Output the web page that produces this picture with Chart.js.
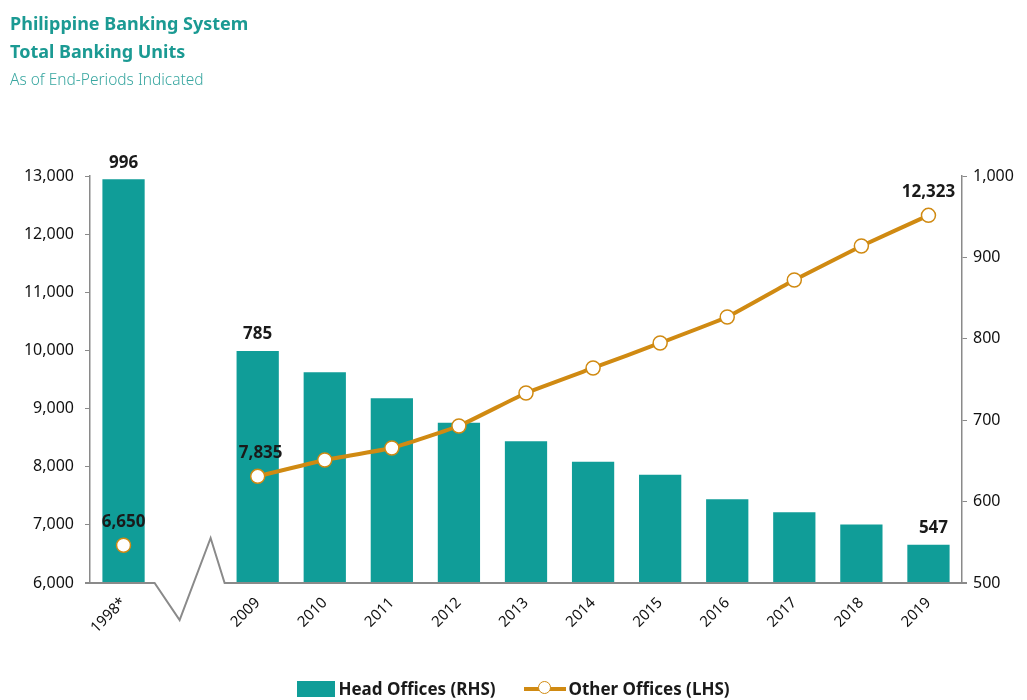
<!DOCTYPE html>
<html>
<head>
<meta charset="utf-8">
<script src="https://cdn.jsdelivr.net/npm/chart.js@4.4.1/dist/chart.umd.min.js"></script>
<style>
  html, body { margin: 0; padding: 0; background: #fff; }
  body { width: 1027px; height: 700px; position: relative; overflow: hidden; font-family: "Noto Sans", sans-serif; }
  #titles { position: absolute; left: 10px; top: 9px; color: #1b9a93; z-index: 2; }
  #titles .t { font-weight: bold; font-size: 18px; line-height: 28px; }
  #titles .s { font-size: 15.5px; line-height: 28px; color: #3aa7a1; font-weight: 300; }
  #wrap { position: absolute; left: 0; top: 0; width: 1027px; height: 700px; }
  #legend { position: absolute; left: 0; right: 0; top: 677px; display: flex; justify-content: center; align-items: center; font-size: 17px; font-weight: bold; color: #1a1a1a; z-index: 2; }
  #legend .item { display: flex; align-items: center; margin: 0 12px; }
  #legend .item:first-child { margin-right: 14px; }
  #legend .item:last-child { margin-left: 14px; }
  #legend .box { width: 38px; height: 16px; background: #109d98; margin-right: 3px; }
  #legend .ln { position: relative; width: 42px; height: 4px; background: #d08a12; margin-right: 3px; }
  #legend .ln i { position: absolute; left: 14px; top: -6px; width: 13px; height: 13px; border-radius: 50%; background: #fff; border: 1.5px solid #d08a12; box-sizing: border-box; }
</style>
</head>
<body>
<div id="titles">
  <div class="t">Philippine Banking System</div>
  <div class="t">Total Banking Units</div>
  <div class="s">As of End-Periods Indicated</div>
</div>
<div id="wrap"><canvas id="unitsChart" width="1027" height="700"></canvas></div>
<div id="legend">
  <div class="item"><span class="box"></span>Head Offices (RHS)</div>
  <div class="item"><span class="ln"><i></i></span>Other Offices (LHS)</div>
</div>
<script>
// the blank slot after 1998* is where the axis break goes
const years = ['1998*', '', '2009', '2010', '2011', '2012', '2013', '2014', '2015', '2016', '2017', '2018', '2019'];
const headOffices = [996, null, 785, 759, 727, 697, 674, 649, 633, 603, 587, 572, 547];
const otherOffices = [6650, null, 7835, 8116, 8322, 8700, 9268, 9698, 10128, 10575, 11211, 11796, 12323];
const leftTicks = [6000, 7000, 8000, 9000, 10000, 11000, 12000, 13000];
const rightTicks = [500, 600, 700, 800, 900, 1000];
const labelledIdx = [0, 2, 12];

const teal = '#109d98';
const gold = '#d08a12';
const axisGrey = '#8a8a8a';
const fontFamily = '"Noto Sans", sans-serif';

const fmt = v => v.toLocaleString('en-US');

// value labels above selected bars and points
const valueLabels = {
  id: 'valueLabels',
  afterDatasetsDraw(chart) {
    const ctx = chart.ctx;
    ctx.save();
    ctx.font = 'bold 17px ' + fontFamily;
    ctx.fillStyle = '#1a1a1a';
    ctx.textAlign = 'center';
    ctx.textBaseline = 'bottom';
    const bars = chart.getDatasetMeta(0).data;
    const pts = chart.getDatasetMeta(1).data;
    labelledIdx.forEach(i => {
      ctx.fillText(fmt(headOffices[i]), bars[i].x + (i === 12 ? 5 : 0), bars[i].y - 8);
      ctx.fillText(fmt(otherOffices[i]), pts[i].x + (i === 2 ? 3 : 0), pts[i].y - 15);
    });
    ctx.restore();
  }
};

// x axis line with a zigzag break over the empty slot
const brokenAxis = {
  id: 'brokenAxis',
  afterDraw(chart) {
    const ctx = chart.ctx;
    const area = chart.chartArea;
    const x = chart.scales.x.getPixelForValue(1);
    const y = area.bottom;
    ctx.save();
    ctx.strokeStyle = axisGrey;
    ctx.lineWidth = 2;
    ctx.beginPath();
    ctx.moveTo(area.left - 5, y);
    ctx.lineTo(x - 36, y);
    ctx.lineTo(x - 11, y + 37);
    ctx.lineTo(x + 20, y - 45);
    ctx.lineTo(x + 34, y);
    ctx.lineTo(area.right + 5, y);
    ctx.stroke();
    ctx.restore();
  }
};

const ctx = document.getElementById('unitsChart').getContext('2d');
const unitsChart = new Chart(ctx, {
  data: {
    labels: years,
    datasets: [{
      type: 'bar',
      label: 'Head Offices (RHS)',
      data: headOffices,
      yAxisID: 'yRight',
      backgroundColor: teal,
      barPercentage: 0.63,
      categoryPercentage: 1,
      order: 2
    }, {
      type: 'line',
      label: 'Other Offices (LHS)',
      data: otherOffices,
      yAxisID: 'yLeft',
      borderColor: gold,
      borderWidth: 4,
      backgroundColor: '#fff',
      pointBackgroundColor: '#fff',
      pointBorderColor: gold,
      pointBorderWidth: 1.5,
      pointRadius: 7,
      tension: 0.1,
      spanGaps: false,
      order: 1
    }]
  },
  options: {
    responsive: false,
    animation: false,
    layout: { padding: { top: 176, left: 0, right: 0, bottom: 0 } },
    plugins: {
      legend: { display: false },
      tooltip: { enabled: false }
    },
    scales: {
      x: {
        border: { display: false },
        grid: { display: false },
        ticks: {
          color: '#111',
          font: { family: fontFamily, size: 15 },
          maxRotation: 45,
          minRotation: 45,
          autoSkip: false,
          padding: 3
        },
        afterFit(scale) { scale.height = 117; }
      },
      yLeft: {
        position: 'left',
        min: 6000,
        max: 13000,
        afterBuildTicks(scale) { scale.ticks = leftTicks.map(v => ({ value: v })); },
        afterFit(scale) { scale.width = 90; },
        border: { display: true, color: axisGrey, width: 1.5 },
        grid: { drawOnChartArea: false, drawTicks: true, tickLength: 5, color: axisGrey },
        ticks: {
          color: '#111',
          font: { family: fontFamily, size: 16 },
          padding: 11,
          callback: v => fmt(v)
        }
      },
      yRight: {
        position: 'right',
        min: 500,
        max: 1000,
        afterBuildTicks(scale) { scale.ticks = rightTicks.map(v => ({ value: v })); },
        afterFit(scale) { scale.width = 65; },
        border: { display: true, color: axisGrey, width: 1.5 },
        grid: { drawOnChartArea: false, drawTicks: true, tickLength: 5, color: axisGrey },
        ticks: {
          color: '#111',
          font: { family: fontFamily, size: 16 },
          padding: 6,
          callback: v => fmt(v)
        }
      }
    }
  },
  plugins: [valueLabels, brokenAxis]
});
</script>
</body>
</html>
